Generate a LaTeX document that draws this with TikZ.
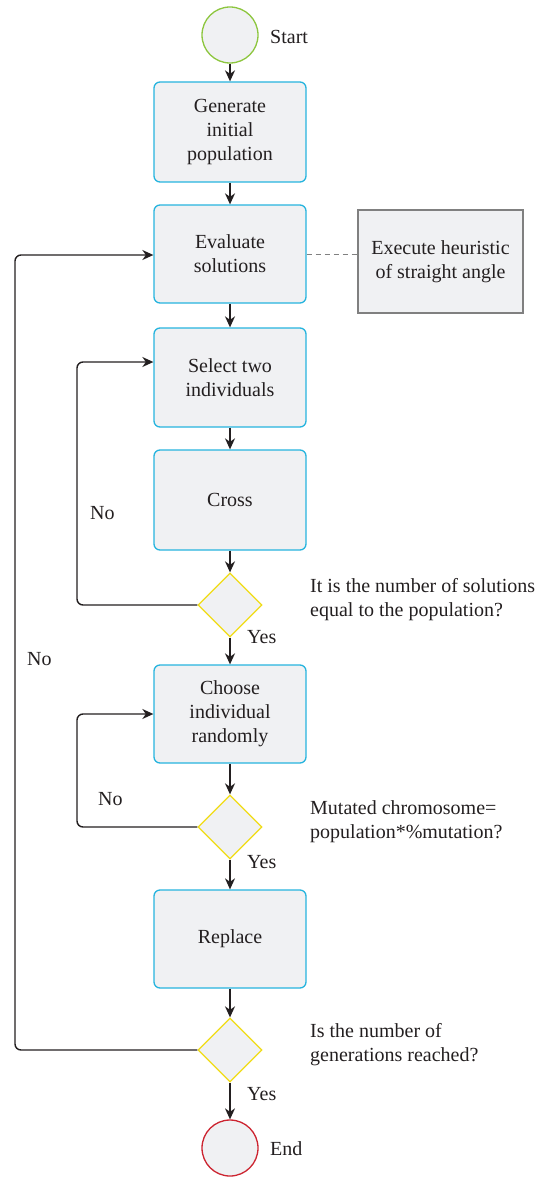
\documentclass[tikz,border=0pt]{standalone}
\usepackage{fontspec}
\setmainfont{Liberation Serif}
\usetikzlibrary{arrows.meta,shapes.geometric}
\definecolor{boxfill}{RGB}{240,241,243}
\definecolor{boxline}{RGB}{38,180,222}
\definecolor{startc}{RGB}{141,198,63}
\definecolor{endc}{RGB}{204,36,48}
\definecolor{diac}{RGB}{240,220,20}
\definecolor{greyline}{RGB}{128,128,128}
\definecolor{ink}{RGB}{35,31,32}
\tikzset{
  txt/.style={font=\fontsize{20}{24}\selectfont, text=ink},
  procbox/.style={txt, draw=boxline, fill=boxfill, line width=1.3pt, rounded corners=6pt,
    minimum width=152pt, minimum height=99pt, align=center, inner sep=0pt},
  notebox/.style={txt, draw=greyline, fill=boxfill, line width=1.1pt,
    minimum width=165pt, minimum height=103pt, align=center, inner sep=0pt},
  termc/.style={circle, fill=boxfill, line width=1.3pt, minimum size=56pt, inner sep=0pt},
  decide/.style={diamond, draw=diac, fill=boxfill, line width=1.3pt, minimum width=64pt, minimum height=64pt, inner sep=0pt},
  arr/.style={draw=ink, line width=1.4pt, -{Stealth[length=11pt,width=10pt,inset=3.5pt]}},
  loopline/.style={arr, rounded corners=6pt},
  lbl/.style={txt, inner sep=0pt, align=left},
}
\begin{document}
\begin{tikzpicture}[x=1pt,y=-1pt]
\useasboundingbox (0,0) rectangle (551,1177);
\node[termc, draw=startc] (start) at (230,35) {};
\node[lbl, anchor=west] (startl) at (270,37) {Start};
\node[procbox, minimum height=100pt] (b1) at (230,132) {Generate\\initial\\population};
\node[procbox, minimum height=98pt] (b2) at (230,254) {Evaluate\\solutions};
\node[notebox] (h) at (440.5,261.5) {Execute heuristic\\of straight angle};
\node[procbox] (b3) at (230,377.5) {Select two\\individuals};
\node[procbox, minimum height=100pt] (b4) at (230,500) {Cross};
\node[decide] (d1) at (230,605) {};
\node[procbox, minimum height=98pt] (b5) at (230,714) {Choose\\individual\\randomly};
\node[decide] (d2) at (230,827) {};
\node[procbox, minimum height=98pt] (b6) at (230,939) {Replace};
\node[decide] (d3) at (230,1050) {};
\node[termc, draw=endc] (end) at (230,1148) {};
\node[lbl, anchor=west] (endl) at (270,1149) {End};

\node[lbl, anchor=west] (q1) at (310,600) {It is the number of solutions\\equal to the population?};
\node[lbl, anchor=west] (q2) at (310,822) {Mutated chromosome=\\population*\%mutation?};
\node[lbl, anchor=west] (q3) at (310,1045) {Is the number of\\generations reached?};

\node[lbl, anchor=west] (y1) at (247,637) {Yes};
\node[lbl, anchor=west] (y2) at (247,862) {Yes};
\node[lbl, anchor=west] (y3) at (247,1094) {Yes};
\node[lbl, anchor=west] (n1) at (90,513) {No};
\node[lbl, anchor=west] (n2) at (27,659) {No};
\node[lbl, anchor=west] (n3) at (98,799) {No};

\draw[arr] (start) -- (b1);
\draw[arr] (b1) -- (b2);
\draw[arr] (b2) -- (b3);
\draw[arr] (b3) -- (b4);
\draw[arr] (b4) -- (d1);
\draw[arr] (d1) -- (b5);
\draw[arr] (b5) -- (d2);
\draw[arr] (d2) -- (b6);
\draw[arr] (b6) -- (d3);
\draw[arr] (d3) -- (end);

\draw[greyline, line width=1pt, dash pattern=on 5pt off 4pt] (b2.east) -- (b2.east -| h.west);

\coordinate (l1) at (77,362);
\coordinate (l2) at (77,714);
\coordinate (l3) at (15,255);
\draw[loopline] (d1.west) -| (l1) -- (b3.west |- l1);
\draw[loopline] (d2.west) -| (l2) -- (b5.west |- l2);
\draw[loopline] (d3.west) -| (l3) -- (b2.west |- l3);
\end{tikzpicture}
\end{document}
